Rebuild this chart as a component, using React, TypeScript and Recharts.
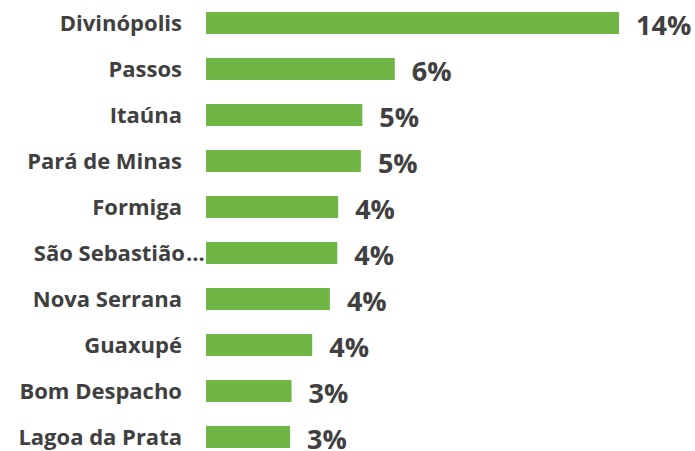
import { Bar, BarChart, LabelList, XAxis, YAxis } from "recharts";

const cities = [
  "Divinópolis",
  "Passos",
  "Itaúna",
  "Pará de Minas",
  "Formiga",
  "São Sebastião do Paraíso",
  "Nova Serrana",
  "Guaxupé",
  "Bom Despacho",
  "Lagoa da Prata",
];
const shares = [14.0, 6.4, 5.3, 5.25, 4.48, 4.45, 4.2, 3.6, 2.9, 2.85];

const rows = cities.map((city, i) => ({ city, share: shares[i] }));

const FONT = "'Open Sans', 'Noto Sans', sans-serif";
const TEXT = "#404040";

// tick x arrives as plot-left minus tickSize/margin, so pin the text to the plot edge instead
function CityTick({ y, payload }: any) {
  const name: string = payload.value;
  const cut = name.length > 15;
  if (cut) {
    return (
      <g>
        <text x={185} y={y} dy={8} textAnchor="end" fontFamily={FONT} fontWeight={700} fontSize={22} fill={TEXT}>
          {name.slice(0, 13)}
        </text>
        <text x={186} y={y} dy={8} fontFamily={FONT} fontWeight={700} fontSize={22} fill={TEXT}>
          ...
        </text>
      </g>
    );
  }
  return (
    <text x={182} y={y} dy={8} textAnchor="end" fontFamily={FONT} fontWeight={700} fontSize={22} fill={TEXT}>
      {name}
    </text>
  );
}

function ShareLabel({ x, y, width, height, value }: any) {
  return (
    <text
      x={x + width + 17}
      y={y + height / 2 + 12}
      fontFamily={FONT}
      fontWeight={700}
      fontSize={27}
      fill={TEXT}
    >
      {`${Math.round(value)}%`}
    </text>
  );
}

export default function App() {
  return (
    <div style={{ position: "absolute", left: 0, top: 0, width: 695, height: 451, overflow: "hidden", background: "#fff" }}>
      <BarChart
        width={695}
        height={460}
        data={rows}
        layout="vertical"
        margin={{ top: 0, right: 76, bottom: 0, left: 0 }}
        barSize={22}
      >
        <XAxis type="number" domain={[0, 14]} hide />
        <YAxis
          type="category"
          dataKey="city"
          width={206}
          axisLine={false}
          tickLine={false}
          tick={<CityTick />}
          interval={0}
        />
        <Bar dataKey="share" fill="#70B645" isAnimationActive={false}>
          <LabelList dataKey="share" content={<ShareLabel />} />
        </Bar>
      </BarChart>
    </div>
  );
}
